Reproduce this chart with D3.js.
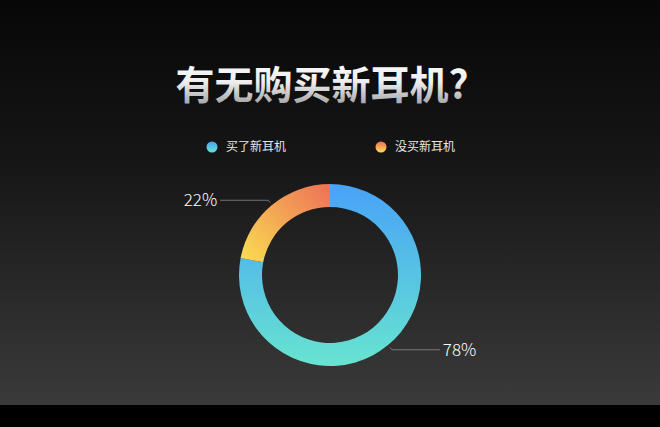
<!DOCTYPE html>
<html>
<head>
<meta charset="utf-8">
<script src="https://cdn.jsdelivr.net/npm/d3@7"></script>
<style>
  html, body { margin: 0; padding: 0; background: #000; }
  svg { display: block; }
</style>
</head>
<body>
<div id="chart"></div>
<script>
// Chart data
const title = '有无购买新耳机?';
const categories = ['买了新耳机', '没买新耳机'];
const values = [78, 22];
const valueLabels = ['78%', '22%'];
// gradient stops per category (top -> bottom)
const palette = [
    ['#48a2f7', '#67e4d0'],
    ['#ee6f58', '#f9de52']
];

const W = 660, H = 427;
const cx = 330, cy = 275;
const outerR = 91, innerR = 68;

const svg = d3.select('#chart').append('svg')
    .attr('width', W)
    .attr('height', H);

const defs = svg.append('defs');

// Background gradient, dark top to grey bottom
const bg = defs.append('linearGradient')
    .attr('id', 'bg')
    .attr('x1', 0).attr('y1', 0).attr('x2', 0).attr('y2', 1);
bg.append('stop').attr('offset', '0%').attr('stop-color', '#070707');
bg.append('stop').attr('offset', '40%').attr('stop-color', '#161616');
bg.append('stop').attr('offset', '100%').attr('stop-color', '#3a3a3a');

svg.append('rect')
    .attr('width', W).attr('height', 405)
    .attr('fill', 'url(#bg)');

svg.append('rect')
    .attr('y', 405).attr('width', W).attr('height', H - 405)
    .attr('fill', '#000');

// Title with metallic gradient
const tg = defs.append('linearGradient')
    .attr('id', 'titleGrad')
    .attr('x1', 0).attr('y1', 0).attr('x2', 0).attr('y2', 1);
tg.append('stop').attr('offset', '0%').attr('stop-color', '#ffffff');
tg.append('stop').attr('offset', '50%').attr('stop-color', '#eeeeee');
tg.append('stop').attr('offset', '100%').attr('stop-color', '#929292');

svg.append('text')
    .attr('x', 322)
    .attr('y', 99)
    .attr('text-anchor', 'middle')
    .attr('font-family', '"Noto Sans CJK SC", sans-serif')
    .attr('font-size', '39px')
    .attr('font-weight', 700)
    .attr('fill', 'url(#titleGrad)')
    .text(title);

// Slice gradients, in the ring's own coordinates (centre = 0,0)
const sliceGrads = [
    { x1: 0, y1: -outerR, x2: 0, y2: outerR },
    { x1: 0, y1: -outerR, x2: -outerR * 0.9, y2: -8 }
];
palette.forEach((p, i) => {
    const g = defs.append('linearGradient')
        .attr('id', 'slice' + i)
        .attr('gradientUnits', 'userSpaceOnUse')
        .attr('x1', sliceGrads[i].x1).attr('y1', sliceGrads[i].y1)
        .attr('x2', sliceGrads[i].x2).attr('y2', sliceGrads[i].y2);
    g.append('stop').attr('offset', '0%').attr('stop-color', p[0]);
    g.append('stop').attr('offset', '100%').attr('stop-color', p[1]);

    const lg = defs.append('linearGradient')
        .attr('id', 'legend' + i)
        .attr('x1', 0).attr('y1', 0).attr('x2', 0).attr('y2', 1);
    lg.append('stop').attr('offset', '0%').attr('stop-color', p[0]);
    lg.append('stop').attr('offset', '100%').attr('stop-color', p[1]);
});

// Legend
const legendX = d3.scalePoint()
    .domain(categories)
    .range([212, 381]);

const legend = svg.append('g').attr('class', 'legend')
    .selectAll('g')
    .data(categories)
    .enter()
    .append('g')
    .attr('transform', d => `translate(${legendX(d)}, 147)`);

legend.append('circle')
    .attr('r', 5.5)
    .attr('fill', (d, i) => `url(#legend${i})`);

legend.append('text')
    .attr('x', 14)
    .attr('dy', '0.35em')
    .attr('font-family', '"Noto Sans CJK SC", sans-serif')
    .attr('font-size', '12px')
    .attr('fill', '#e6e6e6')
    .text(d => d);

// Donut
const pie = d3.pie().sort(null).value(d => d)(values);
const arc = d3.arc().innerRadius(innerR).outerRadius(outerR);

const ring = svg.append('g')
    .attr('transform', `translate(${cx}, ${cy})`);

ring.selectAll('path.slice')
    .data(pie)
    .enter()
    .append('path')
    .attr('class', 'slice')
    .attr('d', arc)
    .attr('fill', (d, i) => `url(#slice${i})`);

// Leader lines and labels
const startArc = d3.arc().innerRadius(94).outerRadius(94);
const elbowArc = d3.arc().innerRadius(97).outerRadius(97);
const lineLen = 48;

pie.forEach((d, i) => {
    const a = startArc.centroid(d);
    const b = elbowArc.centroid(d);
    const mid = (d.startAngle + d.endAngle) / 2;
    const side = mid < Math.PI ? 1 : -1;
    const p3 = [b[0] + side * lineLen, b[1]];

    ring.append('polyline')
        .attr('points', [a, b, p3].map(p => p.join(',')).join(' '))
        .attr('fill', 'none')
        .attr('stroke', '#8a8a8a')
        .attr('stroke-width', 0.8);

    ring.append('text')
        .attr('x', p3[0] + side * 3)
        .attr('y', p3[1])
        .attr('dy', '0.35em')
        .attr('text-anchor', side > 0 ? 'start' : 'end')
        .attr('font-family', '"Noto Sans CJK SC", "Noto Sans", sans-serif')
        .attr('font-size', '17px')
        .attr('font-weight', 300)
        .attr('fill', '#ffffff')
        .text(valueLabels[i]);
});
</script>
</body>
</html>
